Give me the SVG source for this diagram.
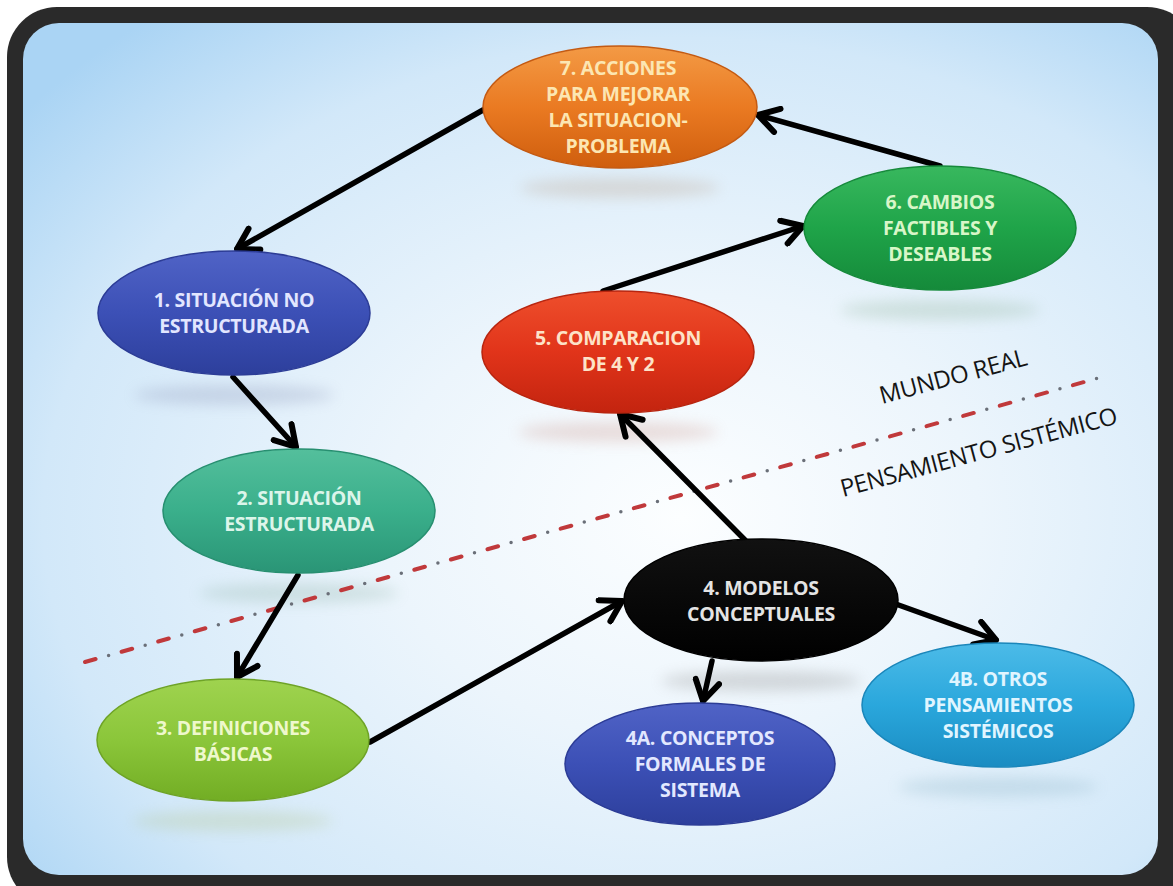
<svg xmlns="http://www.w3.org/2000/svg" width="1173" height="886" viewBox="0 0 1173 886">
  <style>
    .lbl { font-family: "Open Sans", "Liberation Sans", sans-serif; font-weight: 700; font-size: 19.5px; text-anchor: middle; letter-spacing: -0.3px; }
    .zone { font-family: "Open Sans", "Liberation Sans", sans-serif; font-weight: 400; font-size: 24px; fill: #141414; letter-spacing: -0.4px; }
    .node-shape { stroke-width: 1.5; }
    .conn { fill: none; stroke: #000; stroke-width: 5.5; stroke-linecap: round; }
  </style>
  <defs>
    <radialGradient id="bg" cx="0.58" cy="0.58" r="0.75">
      <stop offset="0" stop-color="#fcfeff"/>
      <stop offset="0.35" stop-color="#ecf5fc"/>
      <stop offset="0.75" stop-color="#d2e8f9"/>
      <stop offset="1" stop-color="#aad4f4"/>
    </radialGradient>
    <linearGradient id="g-orange" x1="0" y1="0" x2="0" y2="1">
      <stop offset="0" stop-color="#f39a45"/>
      <stop offset="0.5" stop-color="#ea7a22"/>
      <stop offset="1" stop-color="#cf5e0e"/>
    </linearGradient>
    <linearGradient id="g-green" x1="0" y1="0" x2="0" y2="1">
      <stop offset="0" stop-color="#38b85e"/>
      <stop offset="0.5" stop-color="#1fa449"/>
      <stop offset="1" stop-color="#158a3a"/>
    </linearGradient>
    <linearGradient id="g-blue" x1="0" y1="0" x2="0" y2="1">
      <stop offset="0" stop-color="#5063c6"/>
      <stop offset="0.5" stop-color="#3c50b6"/>
      <stop offset="1" stop-color="#2d3f9c"/>
    </linearGradient>
    <linearGradient id="g-red" x1="0" y1="0" x2="0" y2="1">
      <stop offset="0" stop-color="#ee4f2c"/>
      <stop offset="0.5" stop-color="#e1341a"/>
      <stop offset="1" stop-color="#c3240f"/>
    </linearGradient>
    <linearGradient id="g-teal" x1="0" y1="0" x2="0" y2="1">
      <stop offset="0" stop-color="#54bf9c"/>
      <stop offset="0.5" stop-color="#3aaf8b"/>
      <stop offset="1" stop-color="#2a9576"/>
    </linearGradient>
    <linearGradient id="g-black" x1="0" y1="0" x2="0" y2="1">
      <stop offset="0" stop-color="#111"/>
      <stop offset="1" stop-color="#000"/>
    </linearGradient>
    <linearGradient id="g-lime" x1="0" y1="0" x2="0" y2="1">
      <stop offset="0" stop-color="#9fd34f"/>
      <stop offset="0.5" stop-color="#8bc63a"/>
      <stop offset="1" stop-color="#72ad24"/>
    </linearGradient>
    <linearGradient id="g-sky" x1="0" y1="0" x2="0" y2="1">
      <stop offset="0" stop-color="#4cbbe8"/>
      <stop offset="0.5" stop-color="#2aa7dc"/>
      <stop offset="1" stop-color="#1a8cc2"/>
    </linearGradient>
    <filter id="soft" x="-50%" y="-200%" width="200%" height="500%">
      <feGaussianBlur stdDeviation="7"/>
    </filter>
    <marker id="chev" markerUnits="userSpaceOnUse" viewBox="0 0 30 30" markerWidth="30" markerHeight="30" refX="26" refY="15" orient="auto">
      <path d="M6,3 L26,15 L6,27" fill="none" stroke="#000" stroke-width="6" stroke-linecap="round" stroke-linejoin="round"/>
    </marker>
  </defs>

  <!-- frame -->
  <rect x="0" y="0" width="1173" height="886" fill="#ffffff"/>
  <rect x="7" y="7" width="1190" height="900" rx="50" fill="#2a2a2a"/>
  <rect x="23" y="23" width="1135" height="852" rx="36" fill="url(#bg)"/>

  <!-- soft reflections under the nodes -->
  <g id="reflections" filter="url(#soft)" opacity="0.3">
    <ellipse cx="620" cy="188" rx="100" ry="10" fill="#b9a089"/>
    <ellipse cx="940" cy="310" rx="100" ry="10" fill="#8fb39a"/>
    <ellipse cx="234" cy="395" rx="100" ry="10" fill="#8c96b8"/>
    <ellipse cx="618" cy="432" rx="100" ry="10" fill="#c9968c"/>
    <ellipse cx="299" cy="593" rx="100" ry="10" fill="#8fb3a7"/>
    <ellipse cx="761" cy="681" rx="100" ry="10" fill="#8a8a8a"/>
    <ellipse cx="233" cy="821" rx="100" ry="10" fill="#b3c48c"/>
    <ellipse cx="998" cy="787" rx="100" ry="10" fill="#8ab3c6"/>
  </g>

  <!-- boundary between real world and systems thinking -->
  <g id="boundary">
    <line x1="85" y1="662" x2="1102" y2="377" stroke="#c0393b" stroke-width="4" stroke-linecap="round" stroke-dasharray="11 27"/>
    <line x1="85" y1="662" x2="1102" y2="377" stroke="#6a6f78" stroke-width="3.5" stroke-linecap="round" stroke-dasharray="0 38" stroke-dashoffset="13.5"/>
    <text class="zone" transform="translate(882,404) rotate(-15)">MUNDO REAL</text>
    <text class="zone" transform="translate(843,497) rotate(-15)">PENSAMIENTO SISTÉMICO</text>
  </g>

  <!-- connectors -->
  <g id="connectors">
    <line class="conn" x1="483" y1="110" x2="237" y2="249" marker-end="url(#chev)"/>
    <line class="conn" x1="940" y1="166" x2="758" y2="115" marker-end="url(#chev)"/>
    <line class="conn" x1="603" y1="291" x2="803" y2="226" marker-end="url(#chev)"/>
    <line class="conn" x1="233" y1="377" x2="296" y2="447" marker-end="url(#chev)"/>
    <line class="conn" x1="298" y1="575" x2="237" y2="677" marker-end="url(#chev)"/>
    <line class="conn" x1="370" y1="742" x2="622" y2="601" marker-end="url(#chev)"/>
    <line class="conn" x1="745" y1="540" x2="620" y2="414" marker-end="url(#chev)"/>
    <line class="conn" x1="712" y1="661" x2="703" y2="701" marker-end="url(#chev)"/>
    <line class="conn" x1="893" y1="603" x2="996" y2="640" marker-end="url(#chev)"/>
  </g>

  <!-- 7 -->
  <g id="node7">
    <ellipse class="node-shape" cx="620" cy="107" rx="137" ry="61" fill="url(#g-orange)" stroke="#c45a12"/>
    <text class="lbl" fill="#fce6b2"><tspan x="618" y="75">7. ACCIONES</tspan><tspan x="618" y="101">PARA MEJORAR</tspan><tspan x="618" y="127">LA SITUACION-</tspan><tspan x="618" y="153">PROBLEMA</tspan></text>
  </g>
  <!-- 6 -->
  <g id="node6">
    <ellipse class="node-shape" cx="940" cy="228" rx="136" ry="62" fill="url(#g-green)" stroke="#168a3b"/>
    <text class="lbl" fill="#d8f6c8"><tspan x="940" y="209">6. CAMBIOS</tspan><tspan x="940" y="235">FACTIBLES Y</tspan><tspan x="940" y="261">DESEABLES</tspan></text>
  </g>
  <!-- 1 -->
  <g id="node1">
    <ellipse class="node-shape" cx="234" cy="313" rx="136" ry="62" fill="url(#g-blue)" stroke="#2c3c96"/>
    <text class="lbl" fill="#e2e6ff"><tspan x="234" y="307">1. SITUACIÓN NO</tspan><tspan x="234" y="333">ESTRUCTURADA</tspan></text>
  </g>
  <!-- 5 -->
  <g id="node5">
    <ellipse class="node-shape" cx="618" cy="352" rx="136" ry="61" fill="url(#g-red)" stroke="#b8250f"/>
    <text class="lbl" fill="#fde3c8"><tspan x="618" y="345">5. COMPARACION</tspan><tspan x="618" y="371">DE 4 Y 2</tspan></text>
  </g>
  <!-- 2 -->
  <g id="node2">
    <ellipse class="node-shape" cx="299" cy="511" rx="136" ry="62" fill="url(#g-teal)" stroke="#278f70"/>
    <text class="lbl" fill="#dcf5ea"><tspan x="299" y="505">2. SITUACIÓN</tspan><tspan x="299" y="531">ESTRUCTURADA</tspan></text>
  </g>
  <!-- 4 -->
  <g id="node4">
    <ellipse class="node-shape" cx="761" cy="600" rx="137" ry="61" fill="url(#g-black)" stroke="#000"/>
    <text class="lbl" fill="#e4e4e4"><tspan x="761" y="595">4. MODELOS</tspan><tspan x="761" y="621">CONCEPTUALES</tspan></text>
  </g>
  <!-- 3 -->
  <g id="node3">
    <ellipse class="node-shape" cx="233" cy="740" rx="136" ry="61" fill="url(#g-lime)" stroke="#6ea326"/>
    <text class="lbl" fill="#eef8cc"><tspan x="233" y="735">3. DEFINICIONES</tspan><tspan x="233" y="761">BÁSICAS</tspan></text>
  </g>
  <!-- 4A -->
  <g id="node4A">
    <ellipse class="node-shape" cx="700" cy="764" rx="135" ry="61" fill="url(#g-blue)" stroke="#2c3c96"/>
    <text class="lbl" fill="#e2e8ff"><tspan x="700" y="745">4A. CONCEPTOS</tspan><tspan x="700" y="771">FORMALES DE</tspan><tspan x="700" y="797">SISTEMA</tspan></text>
  </g>
  <!-- 4B -->
  <g id="node4B">
    <ellipse class="node-shape" cx="998" cy="705" rx="136" ry="62" fill="url(#g-sky)" stroke="#1a86ba"/>
    <text class="lbl" fill="#e0f5ff"><tspan x="998" y="686">4B. OTROS</tspan><tspan x="998" y="712">PENSAMIENTOS</tspan><tspan x="998" y="738">SISTÉMICOS</tspan></text>
  </g>
</svg>
